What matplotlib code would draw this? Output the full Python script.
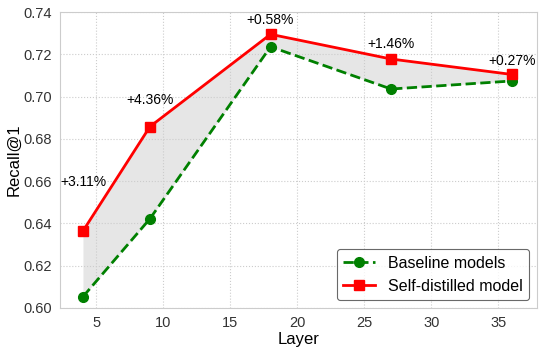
import matplotlib
matplotlib.use("Agg")
import matplotlib.pyplot as plt

# datos
layers = [4, 9, 18, 27, 36]
baseline = [0.6053, 0.6422, 0.7236, 0.7036, 0.7074]
self_distilled = [0.6364, 0.6858, 0.7295, 0.7178, 0.7105]
gain_labels = ["+3.11%", "+4.36%", "+0.58%", "+1.46%", "+0.27%"]

plt.rcParams['font.family'] = ['Liberation Sans', 'DejaVu Sans']

fig, ax = plt.subplots(figsize=(5.47, 3.56), dpi=100)

ax.fill_between(layers, baseline, self_distilled, color='#dcdcdc', alpha=0.7, lw=0)
ax.plot(layers, baseline, '--', color='green', marker='o', ms=7, lw=2,
        label='Baseline models')
ax.plot(layers, self_distilled, '-', color='red', marker='s', ms=7, lw=2,
        label='Self-distilled model')

# desplazamiento vertical de cada etiqueta (en puntos)
offs = [35, 19, 10, 11, 10]
for x, y, t, o in zip(layers, self_distilled, gain_labels, offs):
    ax.annotate(t, (x, y), xytext=(0, o), textcoords='offset points',
                ha='center', va='center', fontsize=10)

ax.set_xlim(2.3, 37.9)
ax.set_ylim(0.60, 0.74)
ax.set_yticks([0.60, 0.62, 0.64, 0.66, 0.68, 0.70, 0.72, 0.74])
ax.set_xticks([5, 10, 15, 20, 25, 30, 35])
ax.set_xlabel("Layer", fontsize=12, labelpad=1)
ax.set_ylabel("Recall@1", fontsize=12, labelpad=1)
ax.tick_params(length=0, labelsize=10.5, colors='#333333', pad=6)
ax.grid(True, ls=':', color='#cccccc', lw=0.8)
for s in ax.spines.values():
    s.set_color('#cccccc')

leg = ax.legend(loc='lower right', fontsize=11.5, frameon=True, fancybox=True,
                edgecolor='#444444', borderpad=0.4, handlelength=2.0)
leg.get_frame().set_linewidth(0.8)

fig.subplots_adjust(left=0.11, right=0.982, top=0.966, bottom=0.135)
fig.savefig("out.png", dpi=100)
